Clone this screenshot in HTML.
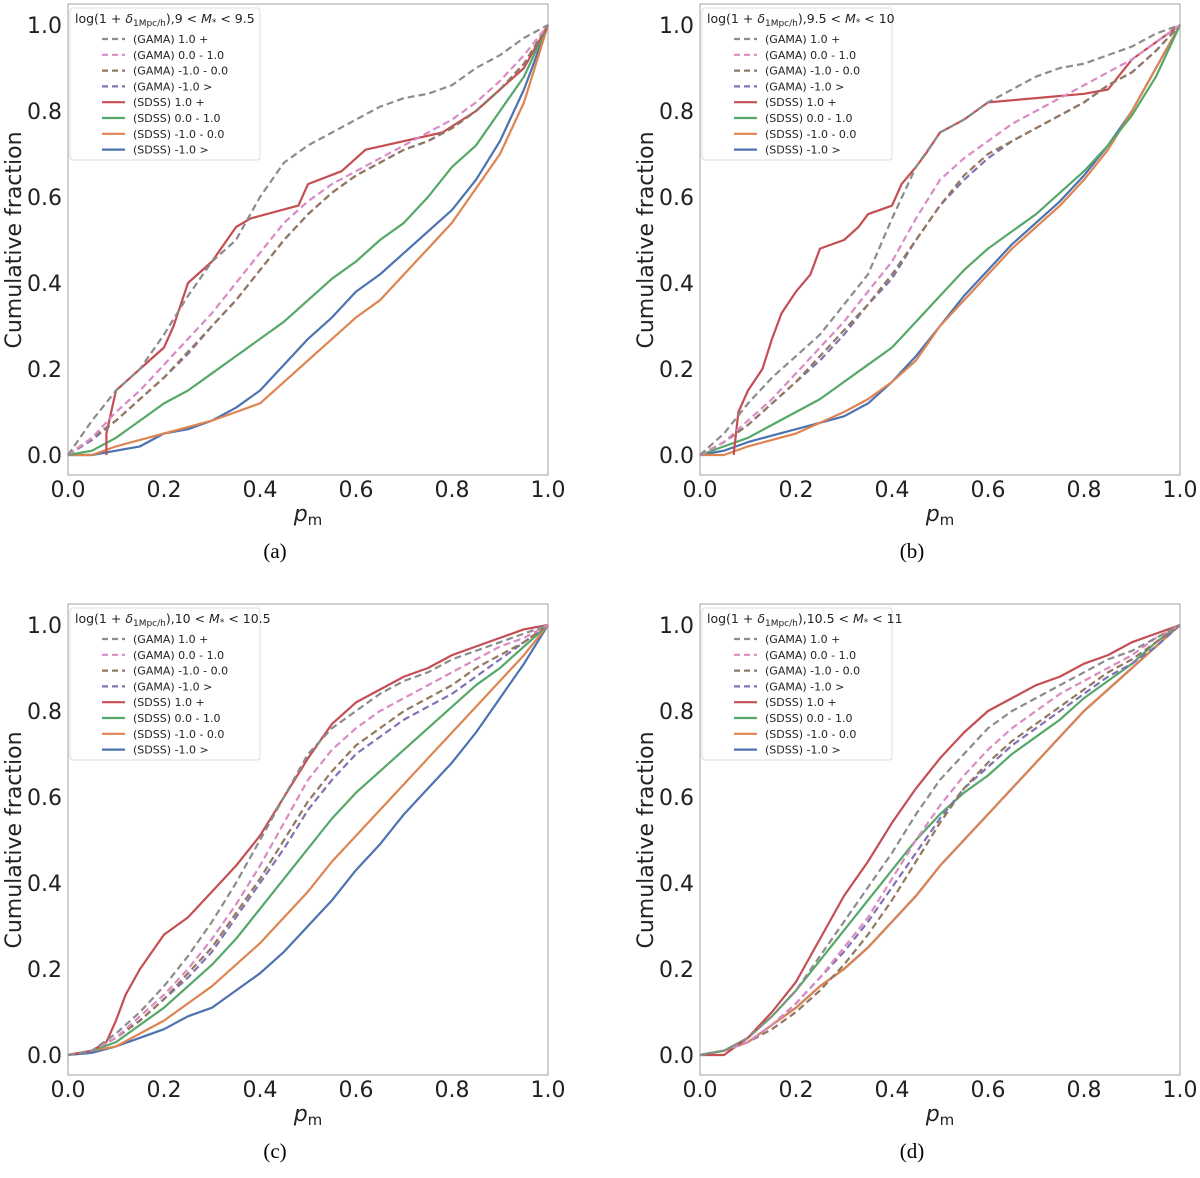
<!DOCTYPE html>
<html><head><meta charset="utf-8"><style>
body{margin:0;background:#fff;width:1200px;height:1173px;overflow:hidden}
svg{font-family:"DejaVu Sans","Liberation Sans",sans-serif}
</style></head><body>
<svg id="chart" width="1200" height="1173" xmlns="http://www.w3.org/2000/svg"></svg>
<script>
const grid=[0,0.05,0.1,0.15,0.2,0.25,0.3,0.35,0.4,0.45,0.5,0.55,0.6,0.65,0.7,0.75,0.8,0.85,0.9,0.95,1];
const seriesNames=["(GAMA) 1.0 +","(GAMA) 0.0 - 1.0","(GAMA) -1.0 - 0.0","(GAMA) -1.0 >","(SDSS) 1.0 +","(SDSS) 0.0 - 1.0","(SDSS) -1.0 - 0.0","(SDSS) -1.0 >"];
const massLo=["9","9.5","10","10.5"];
const massHi=["9.5","10","10.5","11"];
const captions=["(a)","(b)","(c)","(d)"];
const tickLabels=["0.0","0.2","0.4","0.6","0.8","1.0"];
const tickValues=[0,0.2,0.4,0.6,0.8,1];
// panel a
const aGray=[0,.08,.15,.2,.28,.37,.45,.5,.6,.68,.72,.75,.78,.81,.83,.84,.86,.9,.93,.97,1];
const aPink=[0,.04,.1,.15,.21,.27,.33,.4,.47,.54,.59,.63,.66,.69,.72,.75,.78,.82,.87,.93,1];
const aBrown=[0,.04,.08,.13,.18,.24,.3,.36,.43,.5,.56,.61,.65,.68,.71,.73,.76,.8,.85,.91,1];
const aPurple=[0,.035,.08,.13,.18,.235,.3,.36,.43,.5,.56,.61,.65,.68,.71,.73,.76,.8,.85,.91,1];
const aRedX=[0.08,0.08,0.1,0.2,0.22,0.25,0.3,0.35,0.38,0.48,0.5,0.57,0.62,0.78,0.85,0.9,0.95,1];
const aRedY=[0,0.05,0.15,0.25,0.3,0.4,0.45,0.53,0.55,0.58,0.63,0.66,0.71,0.75,0.8,0.85,0.9,1];
const aGreen=[0,.01,.04,.08,.12,.15,.19,.23,.27,.31,.36,.41,.45,.5,.54,.6,.67,.72,.8,.88,1];
const aOrange=[0,0,.02,.035,.05,.065,.08,.1,.12,.17,.22,.27,.32,.36,.42,.48,.54,.62,.7,.82,1];
const aBlue=[0,0,.01,.02,.05,.06,.08,.11,.15,.21,.27,.32,.38,.42,.47,.52,.57,.64,.73,.85,1];
// panel b
const bGray=[0,.05,.12,.18,.23,.28,.35,.42,.55,.67,.75,.78,.82,.85,.88,.9,.91,.93,.95,.98,1];
const bPink=[0,.03,.08,.13,.19,.25,.31,.38,.45,.55,.64,.69,.73,.77,.8,.83,.86,.89,.92,.96,1];
const bBrown=[0,.03,.07,.12,.17,.23,.29,.35,.42,.5,.58,.65,.7,.73,.76,.79,.82,.86,.89,.94,1];
const bPurple=[0,.03,.07,.12,.17,.22,.28,.35,.41,.5,.58,.64,.69,.73,.76,.79,.82,.86,.89,.94,1];
const bRedX=[0.07,0.08,0.1,0.13,0.15,0.17,0.2,0.23,0.25,0.3,0.33,0.35,0.4,0.42,0.45,0.47,0.5,0.55,0.6,0.7,0.8,0.85,0.9,0.95,1];
const bRedY=[0,0.1,0.15,0.2,0.27,0.33,0.38,0.42,0.48,0.5,0.53,0.56,0.58,0.63,0.67,0.7,0.75,0.78,0.82,0.83,0.84,0.85,0.92,0.96,1];
const bGreen=[0,.02,.04,.07,.1,.13,.17,.21,.25,.31,.37,.43,.48,.52,.56,.61,.66,.72,.79,.88,1];
const bOrange=[0,0,.02,.035,.05,.075,.1,.13,.17,.22,.3,.36,.42,.48,.53,.58,.64,.71,.8,.9,1];
const bBlue=[0,.01,.03,.045,.06,.075,.09,.12,.17,.23,.3,.37,.43,.49,.54,.59,.65,.72,.8,.9,1];
// panel c
const cGray=[0,.01,.05,.1,.16,.23,.31,.4,.5,.6,.7,.76,.8,.84,.87,.89,.92,.94,.96,.98,1];
const cPink=[0,.01,.04,.09,.14,.2,.27,.35,.44,.54,.64,.71,.76,.8,.83,.86,.89,.92,.95,.97,1];
const cBrown=[0,.01,.04,.08,.13,.19,.25,.33,.41,.5,.59,.66,.72,.76,.8,.83,.86,.9,.93,.96,1];
const cPurple=[0,.01,.04,.08,.13,.18,.24,.32,.4,.48,.57,.64,.7,.74,.78,.81,.84,.88,.92,.96,1];
const cRedX=[0,0.05,0.08,0.1,0.12,0.15,0.2,0.25,0.3,0.35,0.4,0.45,0.5,0.55,0.6,0.65,0.7,0.75,0.8,0.85,0.9,0.95,1];
const cRedY=[0,0.01,0.03,0.08,0.14,0.2,0.28,0.32,0.38,0.44,0.51,0.6,0.69,0.77,0.82,0.85,0.88,0.9,0.93,0.95,0.97,0.99,1];
const cGreen=[0,.01,.03,.07,.11,.16,.21,.27,.34,.41,.48,.55,.61,.66,.71,.76,.81,.86,.9,.95,1];
const cOrange=[0,.01,.02,.05,.08,.12,.16,.21,.26,.32,.38,.45,.51,.57,.63,.69,.75,.81,.87,.93,1];
const cBlue=[0,.005,.02,.04,.06,.09,.11,.15,.19,.24,.3,.36,.43,.49,.56,.62,.68,.75,.83,.91,1];
// panel d
const dGray=[0,.01,.04,.09,.15,.23,.31,.39,.47,.56,.64,.7,.76,.8,.83,.86,.89,.92,.94,.97,1];
const dPink=[0,.01,.03,.07,.12,.18,.25,.32,.41,.5,.58,.65,.71,.76,.8,.84,.87,.9,.93,.97,1];
const dBrown=[0,.01,.03,.06,.1,.15,.21,.28,.36,.45,.54,.62,.68,.73,.77,.81,.85,.89,.92,.96,1];
const dPurple=[0,.01,.03,.07,.12,.18,.24,.31,.39,.47,.55,.62,.67,.72,.76,.8,.84,.88,.91,.95,1];
const dRedX=grid;
const dRedY=[0,0,.04,.1,.17,.27,.37,.45,.54,.62,.69,.75,.8,.83,.86,.88,.91,.93,.96,.98,1];
const dGreen=[0,.01,.04,.09,.15,.22,.29,.36,.43,.5,.56,.61,.65,.7,.74,.78,.83,.87,.91,.96,1];
const dOrange=[0,.01,.03,.07,.11,.16,.2,.25,.31,.37,.44,.5,.56,.62,.68,.74,.8,.85,.9,.95,1];
const dBlue=[0,.01,.03,.07,.11,.16,.2,.25,.31,.37,.44,.5,.56,.62,.68,.74,.8,.85,.9,.95,1];

const colors=["#8c8c8c","#da8bc3","#937860","#8172b3","#c44e52","#55a868","#dd8452","#4c72b0"];
const panels=[
 {ox:0,oy:0,g:[aGray,aPink,aBrown,aPurple],rx:aRedX,ry:aRedY,s:[aGreen,aOrange,aBlue]},
 {ox:632,oy:0,g:[bGray,bPink,bBrown,bPurple],rx:bRedX,ry:bRedY,s:[bGreen,bOrange,bBlue]},
 {ox:0,oy:600,g:[cGray,cPink,cBrown,cPurple],rx:cRedX,ry:cRedY,s:[cGreen,cOrange,cBlue]},
 {ox:632,oy:600,g:[dGray,dPink,dBrown,dPurple],rx:dRedX,ry:dRedY,s:[dGreen,dOrange,dBlue]}
];
const NS="http://www.w3.org/2000/svg";
const svg=document.getElementById('chart');
function mk(tag,attrs,parent){const e=document.createElementNS(NS,tag);for(const k in attrs)e.setAttribute(k,attrs[k]);(parent||svg).appendChild(e);return e;}
panels.forEach((p,pi)=>{
 const x0=68+p.ox,x1=548+p.ox,y0=455+p.oy,y1=25+p.oy;
 const X=v=>x0+v*(x1-x0), Y=v=>y0-v*(y0-y1);
 const g=mk('g',{});
 
 
 const fr=mk('rect',{x:x0,y:4+p.oy,width:x1-x0,height:471,fill:'#fff',stroke:'#b0b0b0','stroke-width':1.2},g);
 
 
 tickValues.forEach((v,i)=>{
  const t=mk('text',{x:X(v),y:p.oy+497,'font-size':22,'text-anchor':'middle',fill:'#222'},g);t.textContent=tickLabels[i];
  
  
  const u=mk('text',{x:x0-6,y:Y(v)+8,'font-size':22,'text-anchor':'end',fill:'#222'},g);u.textContent=tickLabels[i];
  
  
 });
 const xl=mk('text',{x:(x0+x1)/2,y:p.oy+521,'font-size':22,'text-anchor':'middle',fill:'#222'},g);
 xl.innerHTML='<tspan font-style="italic">p</tspan><tspan font-size="15" dy="4">m</tspan>';
 
 
 const yl=mk('text',{x:0,y:0,'font-size':22,'text-anchor':'middle',fill:'#222',transform:`translate(${p.ox+21},${(y0+y1)/2}) rotate(-90)`},g);
 yl.textContent='Cumulative fraction';
 
 
 const cap=mk('text',{x:p.ox+275+(pi%2)*5,y:p.oy+558,'font-size':21,'text-anchor':'middle','font-family':'Liberation Serif,serif',fill:'#000'},g);
 cap.textContent=captions[pi];
 
 
 const lines=[];
 p.g.forEach((arr,i)=>lines.push({xs:grid,ys:arr,c:colors[i],d:true,n:i}));
 lines.push({xs:p.rx,ys:p.ry,c:colors[4],d:false,n:4});
 p.s.forEach((arr,i)=>lines.push({xs:grid,ys:arr,c:colors[5+i],d:false,n:5+i}));
 const order=[7,6,5,4,3,2,1,0];
 order.forEach(n=>{const L=lines.find(l=>l.n===n);
  const pts=L.xs.map((x,i)=>X(x).toFixed(1)+','+Y(L.ys[i]).toFixed(1)).join(' ');
  const pl=mk('polyline',{points:pts,fill:'none',stroke:L.c,'stroke-width':2.2,'stroke-dasharray':L.d?'7,4':'none','stroke-linejoin':'round'},g);
  
  
 });
 const lg=mk('g',{},g);
 
 
 mk('rect',{x:p.ox+70,y:p.oy+8,width:190,height:152,fill:'#fff',stroke:'#ddd',rx:3},lg);
 const tt=mk('text',{x:p.ox+75,y:p.oy+23,'font-size':12.5,fill:'#222'},lg);
 tt.innerHTML='log(1 + <tspan font-style="italic">δ</tspan><tspan font-size="9" dy="3">1Mpc/h</tspan><tspan dy="-3">),'+massLo[pi]+' &lt; </tspan><tspan font-style="italic">M</tspan><tspan font-size="9" dy="2">*</tspan><tspan dy="-2"> &lt; '+massHi[pi]+'</tspan>';
 
 
 seriesNames.forEach((nm,i)=>{
  const yy=p.oy+39+i*15.8;
  const ln=mk('line',{x1:p.ox+102,x2:p.ox+125,y1:yy,y2:yy,stroke:colors[i],'stroke-width':2.2,'stroke-dasharray':i<4?'6,4':'none'},lg);
  
  
  const t=mk('text',{x:p.ox+133,y:yy+4,'font-size':11,fill:'#222'},lg);t.textContent=nm;
  
  
 });
});
</script>
</body></html>
